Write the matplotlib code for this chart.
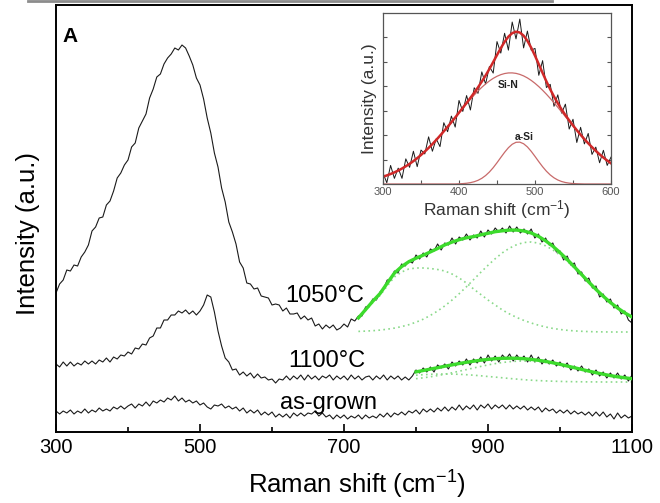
import numpy as np
import matplotlib.pyplot as plt
from matplotlib.lines import Line2D

plt.rcParams['font.family'] = ['Liberation Sans', 'DejaVu Sans']
plt.rcParams['mathtext.fontset'] = 'custom'
plt.rcParams['mathtext.rm'] = 'Liberation Sans'
plt.rcParams['mathtext.it'] = 'Liberation Sans:italic'
plt.rcParams['mathtext.bf'] = 'Liberation Sans:bold'

# main panel, spectra sampled every 5 cm-1 (intensity in a.u.)
shift = np.arange(300, 1101, 5)

i_1050 = [139, 148, 152, 162, 161, 167, 166, 175, 180, 187,
          201, 205, 214, 215, 227, 231, 241, 254, 259, 267,
          272, 285, 289, 304, 311, 318, 334, 343, 355, 358,
          368, 374, 378, 384, 382, 387, 384, 376, 367, 354,
          347, 333, 314, 299, 279, 265, 244, 230, 210, 200,
          188, 170, 164, 149, 148, 143, 144, 136, 135, 134,
          127, 128, 127, 121, 124, 118, 118, 119, 113, 116,
          112, 114, 106, 108, 103, 107, 104, 107, 102, 104,
          108, 105, 113, 111, 116, 116, 125, 126, 133, 132,
          140, 143, 152, 152, 161, 159, 168, 166, 171, 169,
          177, 173, 179, 175, 183, 181, 188, 182, 189, 187,
          194, 188, 195, 192, 198, 192, 197, 194, 201, 195,
          202, 198, 204, 200, 204, 199, 206, 200, 205, 199,
          203, 198, 203, 194, 198, 190, 194, 187, 189, 180,
          181, 172, 176, 167, 169, 158, 160, 151, 154, 144,
          146, 135, 138, 130, 133, 124, 127, 118, 121, 112,
          109]

i_1100 = [68, 65, 70, 66, 70, 66, 69, 67, 71, 68,
          71, 68, 72, 70, 74, 70, 75, 73, 77, 76,
          80, 78, 84, 83, 88, 87, 94, 96, 104, 104,
          112, 112, 117, 117, 121, 119, 122, 118, 121, 117,
          121, 127, 137, 135, 120, 101, 86, 74, 70, 62,
          63, 57, 60, 56, 59, 54, 58, 54, 55, 52,
          53, 49, 53, 52, 56, 52, 56, 53, 57, 52,
          57, 53, 56, 52, 56, 54, 57, 52, 56, 53,
          56, 52, 57, 53, 56, 52, 55, 56, 52, 56,
          53, 57, 52, 56, 53, 56, 52, 55, 52, 56,
          62, 59, 64, 60, 65, 60, 67, 64, 68, 63,
          70, 66, 71, 67, 73, 67, 73, 69, 75, 69,
          77, 71, 76, 70, 77, 73, 78, 71, 77, 72,
          76, 70, 77, 70, 75, 68, 73, 68, 72, 66,
          70, 65, 69, 62, 66, 61, 66, 60, 63, 57,
          62, 56, 60, 54, 59, 54, 59, 53, 57, 51,
          57]

i_asgrown = [21, 18, 21, 19, 22, 18, 21, 19, 23, 19,
             22, 20, 24, 21, 23, 21, 25, 23, 26, 23,
             26, 28, 24, 28, 26, 30, 26, 31, 29, 32,
             30, 34, 32, 36, 31, 34, 30, 32, 29, 31,
             27, 29, 25, 23, 27, 26, 28, 24, 26, 23,
             25, 21, 24, 19, 22, 19, 22, 17, 20, 17,
             20, 15, 18, 15, 18, 14, 19, 16, 19, 16,
             19, 18, 21, 16, 19, 15, 17, 13, 17, 14,
             17, 13, 16, 14, 17, 13, 17, 14, 16, 14,
             18, 15, 19, 15, 19, 17, 20, 17, 21, 19,
             22, 18, 23, 20, 23, 20, 24, 21, 25, 21,
             25, 22, 27, 22, 26, 23, 27, 22, 27, 24,
             28, 23, 27, 24, 27, 23, 27, 23, 26, 23,
             26, 22, 25, 22, 25, 20, 24, 21, 23, 19,
             22, 19, 22, 18, 21, 18, 20, 17, 20, 16,
             20, 16, 20, 15, 18, 13, 19, 14, 17, 14,
             16]

# fitted components (above a flat baseline)
fit_x_1050 = np.arange(720, 1101, 10)
base_1050 = 100
fit1050_p1 = [13.5, 21.5, 29.5, 36.5, 46, 55, 60, 63, 64, 64,
              63.5, 62.5, 61, 58, 54, 49, 43, 37.5, 32, 27,
              22, 18, 14.5, 11.5, 9, 6.8, 5, 3.6, 2.5, 1.7,
              1.1, 0.7, 0.4, 0.2, 0.1, 0, 0, 0, 0]
fit1050_p2 = [0.6, 0.9, 1.3, 1.9, 2.8, 3.9, 5.4, 7.3, 9.8, 12.8,
              16.6, 21.0, 26.1, 31.9, 38.3, 45.2, 52.4, 59.7, 66.7, 73.3,
              79.2, 83.9, 87.4, 89.5, 90.0, 88.9, 86.2, 82.2, 76.9, 70.8,
              64.0, 56.8, 49.5, 42.4, 35.7, 29.5, 24.0, 19.1, 15.0]

fit_x_1100 = np.arange(800, 1101, 10)
base_1100 = 50
fit1100_p1 = [6.8, 7.3, 7.7, 7.9, 8.0, 7.9, 7.7, 7.3, 6.8, 6.2,
              5.5, 4.9, 4.2, 3.5, 2.9, 2.3, 1.8, 1.4, 1.1, 0.8,
              0.6, 0.4, 0.3, 0.2, 0.1, 0.1, 0, 0, 0, 0, 0]
fit1100_p2 = [3.3, 4.2, 5.2, 6.4, 7.8, 9.2, 10.8, 12.4, 14.0, 15.6,
              17.1, 18.4, 19.5, 20.3, 20.8, 21.0, 20.8, 20.3, 19.5, 18.4,
              17.1, 15.6, 14.0, 12.4, 10.8, 9.2, 7.8, 6.4, 5.2, 4.2, 3.3]

# inset: 1050 C spectrum 300-600 cm-1 with Si-N and a-Si bands
ins_x = np.arange(300, 601, 5)
ins_data = [0.45, 0.05, 0.76, 0.23, 0.65, 0.23, 1.03, 0.68, 1.34, 0.71,
            1.39, 1.23, 1.93, 1.34, 1.85, 1.53, 2.51, 2.14, 2.78, 2.33,
            3.42, 2.97, 3.62, 3.03, 3.94, 3.71, 4.59, 4.09, 4.81, 4.54,
            5.83, 5.36, 6.17, 5.48, 6.63, 5.94, 6.75, 5.57, 6.26, 5.48,
            5.55, 4.45, 5.05, 3.95, 4.08, 3.18, 3.65, 2.90, 3.27, 2.25,
            2.65, 1.70, 2.32, 1.64, 2.07, 1.21, 1.51, 0.87, 1.38, 0.76,
            1.10]
ins_sin = [0.299, 0.351, 0.410, 0.476, 0.550, 0.633, 0.725, 0.826, 0.937, 1.057,
           1.188, 1.328, 1.477, 1.635, 1.802, 1.976, 2.156, 2.341, 2.530, 2.721,
           2.913, 3.103, 3.289, 3.470, 3.643, 3.807, 3.959, 4.096, 4.219, 4.324,
           4.410, 4.476, 4.522, 4.546, 4.548, 4.529, 4.487, 4.425, 4.343, 4.241,
           4.122, 3.987, 3.838, 3.677, 3.505, 3.326, 3.140, 2.951, 2.760, 2.568,
           2.379, 2.193, 2.011, 1.836, 1.668, 1.508, 1.357, 1.215, 1.083, 0.960,
           0.847]
ins_asi = [0, 0, 0, 0, 0, 0, 0, 0, 0, 0,
           0, 0, 0, 0, 0, 0, 0, 0, 0, 0,
           0.009, 0.017, 0.031, 0.055, 0.093, 0.150, 0.233, 0.346, 0.491, 0.668,
           0.871, 1.087, 1.298, 1.485, 1.627, 1.707, 1.714, 1.648, 1.518, 1.338,
           1.130, 0.913, 0.707, 0.524, 0.372, 0.253, 0.164, 0.102, 0.061, 0.035,
           0.019, 0.010, 0.005, 0, 0, 0, 0, 0, 0, 0,
           0]

green = '#3cdb2c'
green_dot = '#8ad98a'

fig = plt.figure(figsize=(6.6, 5.03), dpi=100)
ax = fig.add_axes([56/660, 71/503, 576/660, 427/503])

ax.plot(shift, i_asgrown, color='#1a1a1a', lw=0.8)
ax.plot(shift, i_1100, color='#1a1a1a', lw=0.8)
ax.plot(shift, i_1050, color='#1a1a1a', lw=0.8)

for fx, base, p1, p2 in [(fit_x_1050, base_1050, fit1050_p1, fit1050_p2),
                         (fit_x_1100, base_1100, fit1100_p1, fit1100_p2)]:
    p1 = np.array(p1)
    p2 = np.array(p2)
    ax.plot(fx, base + p1, color=green_dot, lw=1.2, ls=(0, (1, 2)))
    ax.plot(fx, base + p2, color=green_dot, lw=1.2, ls=(0, (1, 2)))
    ax.plot(fx, base + p1 + p2, color=green, lw=2.4, zorder=3)

ax.text(673.6, 130, '1050°C', ha='center', va='baseline', fontsize=17)
ax.text(676.4, 65, '1100°C', ha='center', va='baseline', fontsize=17)
ax.text(679, 23, 'as-grown', ha='center', va='baseline', fontsize=17)
ax.text(309.7, 390, 'A', ha='left', va='baseline', fontsize=15,
        fontweight='bold')

ax.set_xlim(300, 1100)
ax.set_ylim(0, 427)
ax.set_xticks([300, 500, 700, 900, 1100])
ax.set_xticks([400, 600, 800, 1000], minor=True)
ax.set_yticks([])
ax.tick_params(which='major', direction='in', length=6, width=1.2,
               labelsize=14.5, pad=4)
ax.tick_params(which='minor', direction='in', length=3.5, width=1.2)
for sp in ax.spines.values():
    sp.set_linewidth(1.4)

ax.set_xlabel(r'Raman shift (cm$^{-1}$)', fontsize=18.5)
ax.xaxis.set_label_coords((357 - 56) / 576, -0.087)
ax.set_ylabel('Intensity (a.u.)', fontsize=18.5)
ax.yaxis.set_label_coords(-0.028, 0.464)

# inset
axi = fig.add_axes([383/660, 319/503, 228/660, 171/503])
ins_fit = np.array(ins_sin) + np.array(ins_asi)
axi.plot(ins_x, ins_data, color='#1a1a1a', lw=0.7)
axi.plot(ins_x, ins_sin, color='#c86a6a', lw=0.9)
axi.plot(ins_x, ins_asi, color='#c86a6a', lw=0.9)
axi.plot(ins_x, ins_fit, color='#d02828', lw=1.8)
axi.text(464.5, 4.06, 'Si-N', ha='center', va='center', fontsize=7.5,
         fontweight='bold', color='#222222')
axi.text(485.5, 1.93, 'a-Si', ha='center', va='center', fontsize=7.5,
         fontweight='bold', color='#222222')

axi.set_xlim(300, 600)
axi.set_ylim(0, 7)
axi.set_xticks([300, 400, 500, 600])
axi.set_xticks([350, 450, 550], minor=True)
axi.set_yticks([1, 2, 3, 4, 5, 6])
axi.set_yticklabels([])
axi.tick_params(which='both', direction='in', length=3, width=0.8,
                colors='#555555', labelsize=8, pad=2, right=True)
for sp in axi.spines.values():
    sp.set_linewidth(0.9)
    sp.set_color('#555555')
axi.set_xlabel(r'Raman shift (cm$^{-1}$)', fontsize=12.5, color='#333333',
               labelpad=1)
axi.set_ylabel('Intensity (a.u.)', fontsize=12.5, color='#333333',
               labelpad=2)

# grey rule left over at the top edge of the original figure
fig.add_artist(Line2D([28/660, 552/660], [1 - 1.2/503, 1 - 1.2/503],
                      color='#8c8c8c', lw=2))

fig.savefig('out.png', dpi=100)
